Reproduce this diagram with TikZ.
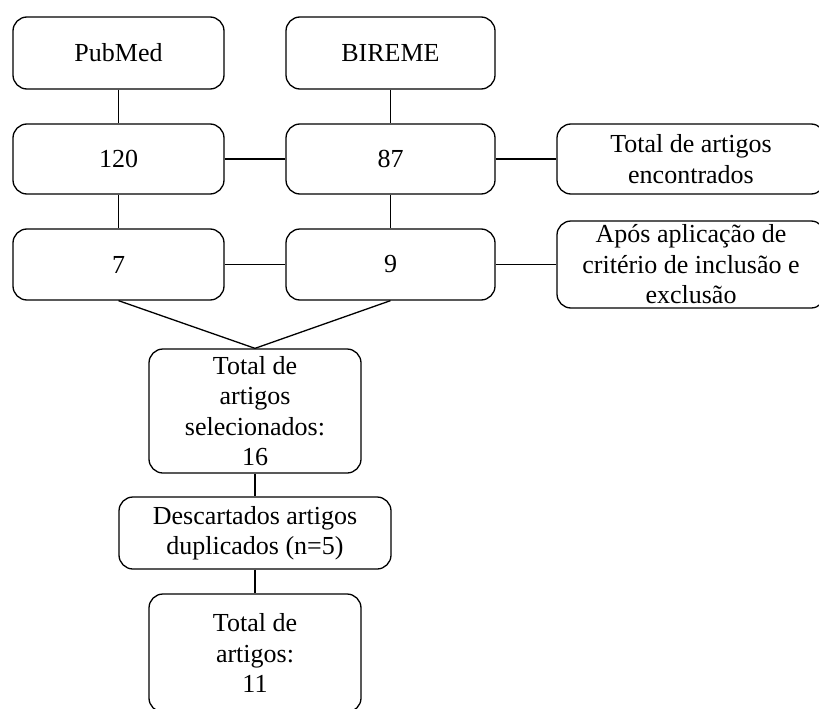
\documentclass[tikz,border=0pt]{standalone}
\usepackage{fontspec}
\setmainfont{Liberation Serif}
\begin{document}
\begin{tikzpicture}[x=1pt,y=-1pt,
    caixa/.style={draw,line width=1.3pt,rounded corners=14pt,align=center,inner sep=0pt,
      font=\fontsize{26}{30.5}\selectfont},
    liga/.style={line width=1.3pt}]
    % Área do desenho
    \useasboundingbox (0,0) rectangle (819,709);
    \clip (0,0) rectangle (819,709);
    % Bases de dados
    \node[caixa,minimum width=211pt,minimum height=72pt] (pub) at (118.5,53) {PubMed};
    \node[caixa,minimum width=209pt,minimum height=72pt] (bir) at (390.5,53) {BIREME};
    % Artigos encontrados
    \node[caixa,minimum width=211pt,minimum height=70pt] (n120) at (118.5,159) {120};
    \node[caixa,minimum width=209pt,minimum height=70pt] (n87) at (390.5,159) {87};
    \node[caixa,minimum width=268pt,minimum height=70pt] (achados) at (691,159) {Total de artigos\\encontrados};
    % Após critérios
    \node[caixa,minimum width=211pt,minimum height=71pt] (n7) at (118.5,264.5) {7};
    \node[caixa,minimum width=209pt,minimum height=71pt] (n9) at (390.5,264.5) {9};
    \node[caixa,minimum width=268pt,minimum height=87pt] (criterio) at (691,264.5) {Após aplicação de\\critério de inclusão e\\exclusão};
    % Seleção final
    \node[caixa,minimum width=212pt,minimum height=124pt] (sel) at (255,411) {Total de\\artigos\\selecionados:\\16};
    \node[caixa,minimum width=272pt,minimum height=72pt] (desc) at (255,533) {Descartados artigos\\duplicados (n=5)};
    \node[caixa,minimum width=212pt,minimum height=118pt] (final) at (255,653) {Total de\\artigos:\\11};
    % Ligações
    \foreach \a/\b in {pub/n120,bir/n87,n120/n7,n87/n9,sel/desc,desc/final}
      \draw[liga] (\a.south) -- (\b.north);
    \foreach \a/\b in {n120/n87,n87/achados,n7/n9,n9/criterio}
      \draw[liga] (\a.east) -- (\b.west);
    \draw[liga] (n7.south) -- (sel.north) -- (n9.south);
\end{tikzpicture}
\end{document}
